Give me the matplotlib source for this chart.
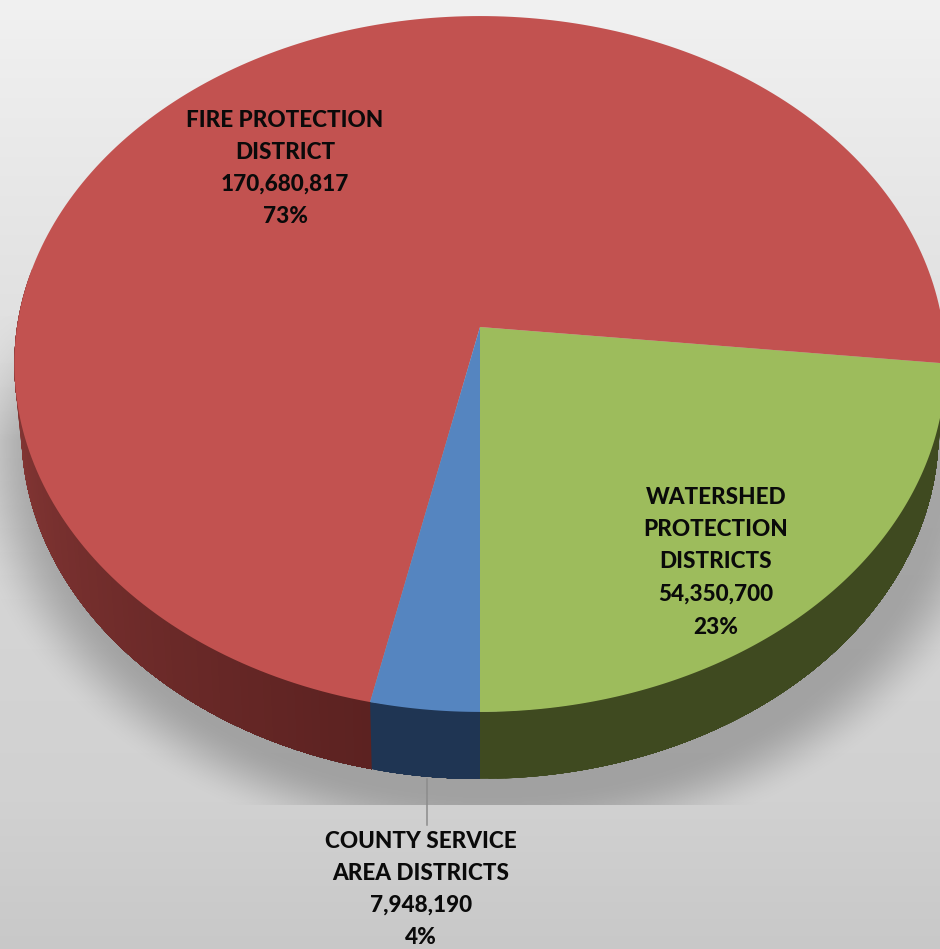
import matplotlib
matplotlib.use("Agg")
import matplotlib.pyplot as plt
import numpy as np

# Slices run counter-clockwise from the front of the disc
districts = ["WATERSHED\nPROTECTION\nDISTRICTS", "FIRE PROTECTION\nDISTRICT", "COUNTY SERVICE\nAREA DISTRICTS"]
amounts = [54350700, 170680817, 7948190]
percents = [23, 73, 4]

top_colors = ["#9dbc5c", "#c25250", "#5585c0"]
side_left = ["#3f4a20", "#8f3c3a", "#1f3553"]
side_right = ["#3f4a20", "#5c2221", "#1f3553"]
label_pos = [(716, 497), (285, 120), (421, 841.5)]

W, H = 940, 949
CX, CY = 480, 327
DEPTH = 67
P = 0.1063


def project(theta):
    # disc seen in perspective: back edge is squeezed, front edge stretched
    x, y = np.cos(theta), np.sin(theta)
    d = 1 + P * y
    return CX + 463 * x / d, CY - 344 * y / d


def lower_rim(theta):
    x, y = project(theta)
    return CX + (x - CX) * 0.985, y + DEPTH


def hex_rgb(c):
    return np.array(matplotlib.colors.to_rgb(c))


fig = plt.figure(figsize=(W / 100, H / 100), dpi=100)
ax = fig.add_axes([0, 0, 1, 1])
ax.set_xlim(0, W)
ax.set_ylim(H, 0)
ax.axis("off")

# background: vertical grey ramp
yy, xx = np.mgrid[0:H, 0:W]
ramp = np.interp(yy, [0, 300, 600, 800, 949], [0.945, 0.885, 0.835, 0.82, 0.785])
bg = np.dstack([ramp, ramp, ramp])
ax.imshow(bg, extent=(0, W, H, 0), aspect="auto", zorder=0)

# soft shadow under the disc, cut off by a straight edge near the bottom
dist = np.sqrt(((xx - 492) / 495.0) ** 2 + ((yy - 445) / 385.0) ** 2)
strength = np.clip((1.08 - dist) / 0.17, 0, 1)
strength = strength * strength * (3 - 2 * strength)
strength = strength * np.clip((yy - 310) / 130.0, 0, 1)
strength[yy > 804] = 0
shade = np.zeros((H, W, 4))
shade[..., :3] = 0.45
shade[..., 3] = 0.5 * strength
ax.imshow(shade, extent=(0, W, H, 0), aspect="auto", zorder=1)

total = sum(amounts)
edges = 270 + 360 * np.cumsum([0] + amounts) / total

# side wall, split into narrow strips so the colour can shift along the rim
for i in range(len(amounts)):
    a0, a1 = edges[i], edges[i + 1]
    # keep only the part of the rim facing the viewer (170..370 degrees)
    if a1 > 530:
        a0, a1 = max(a0 - 360, 170), a1 - 360
    else:
        a1 = min(a1, 370)
    steps = np.linspace(a0, a1, 90)
    left, right = hex_rgb(side_left[i]), hex_rgb(side_right[i])
    # each strip runs to the end of the slice, the next one paints over it
    for j in range(len(steps) - 1):
        t = np.radians(steps[j:])
        xt, yt = project(t)
        xb, yb = lower_rim(t)
        frac = j / (len(steps) - 2)
        ax.fill(np.r_[xt, xb[::-1]], np.r_[yt, yb[::-1]],
                color=left + (right - left) * frac, lw=0, zorder=2)

# top of the disc
for i in range(len(amounts)):
    t = np.radians(np.linspace(edges[i], edges[i + 1], 240))
    xs, ys = project(t)
    ax.fill(np.r_[CX, xs], np.r_[CY, ys], color=top_colors[i], lw=0, zorder=3)

# leader line for the small slice
ax.plot([427, 427], [779, 825], color="#8c8c8c", lw=1.1, zorder=4)

for name, amount, pct, (lx, ly) in zip(districts, amounts, percents, label_pos):
    lines = name.split("\n") + [f"{amount:,}", f"{pct}%"]
    step = 32 if len(lines) == 4 else 32.5
    for k, line in enumerate(lines):
        ax.text(lx, ly + k * step, line, ha="center", va="center", fontsize=16.2,
                fontweight=900, family="Lato", color="#0a0a0a", zorder=5)

fig.savefig("out.png", dpi=100)
